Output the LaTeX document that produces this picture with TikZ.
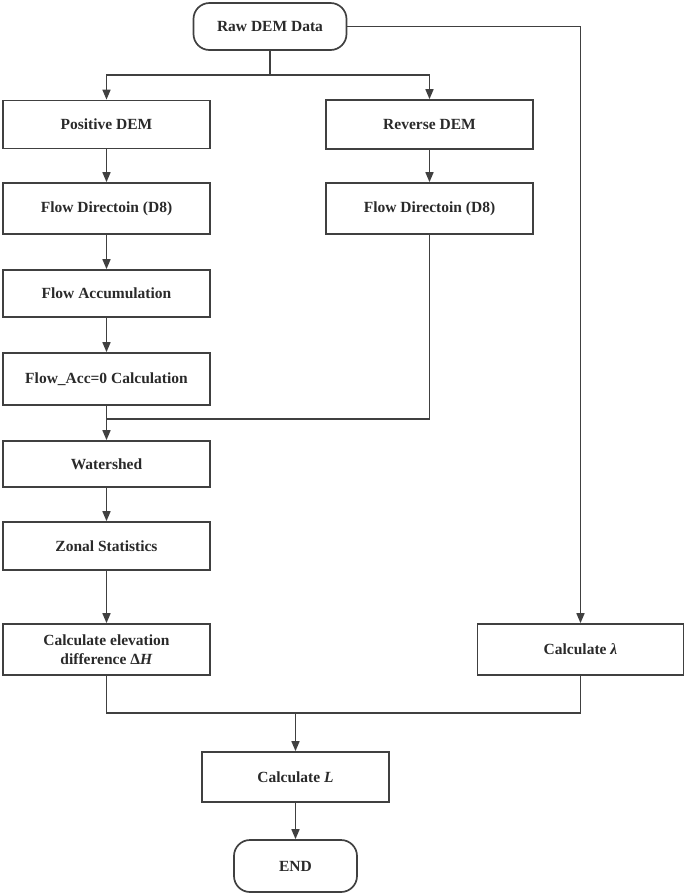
\documentclass[tikz,border=0pt]{standalone}
\usepackage{fontspec}
\setmainfont{Liberation Serif}
\usetikzlibrary{arrows.meta,positioning}
\definecolor{ln}{HTML}{404040}
\definecolor{tx}{HTML}{2A2A2A}
\begin{document}
\begin{tikzpicture}[x=1pt,y=-1pt,
  box/.style={draw=ln,line width=1.7pt,rectangle,inner sep=0pt,text=tx,font=\fontsize{15.5}{19}\selectfont\bfseries,align=center},
  term/.style={box,rounded corners=16pt},
  arr/.style={draw=ln,line width=1.6pt,-{Triangle[length=10pt,width=8pt]}},
  ln/.style={draw=ln,line width=1.6pt}]
\useasboundingbox (0,0) rectangle (685,895);
\node[term,minimum width=153pt,minimum height=47pt] (raw) at (270,26.5) {Raw DEM Data};
\node[box,minimum width=207pt,minimum height=48pt] (pos) at (106.5,124.5) {Positive DEM};
\node[box,minimum width=207pt,minimum height=49pt] (rev) at (429.5,124.5) {Reverse DEM};
\node[box,minimum width=207pt,minimum height=51pt] (fd1) at (106.5,208.5) {Flow Directoin (D8)};
\node[box,minimum width=207pt,minimum height=51pt] (fd2) at (429.5,208.5) {Flow Directoin (D8)};
\node[box,minimum width=207pt,minimum height=47pt] (facc) at (106.5,293.5) {Flow Accumulation};
\node[box,minimum width=207pt,minimum height=52pt] (f0) at (106.5,379) {Flow\_Acc=0 Calculation};
\node[box,minimum width=207pt,minimum height=46pt] (ws) at (106.5,464) {Watershed};
\node[box,minimum width=207pt,minimum height=48pt] (zs) at (106.5,546) {Zonal Statistics};
\node[box,minimum width=207pt,minimum height=51pt] (ce) at (106.5,649.5) {Calculate elevation\\difference Δ\textit{H}};
\node[box,minimum width=206pt,minimum height=51pt] (cl) at (580.5,649.5) {Calculate \textit{λ}};
\node[box,minimum width=187pt,minimum height=50pt] (cL) at (295.5,777) {Calculate \textit{L}};
\node[term,minimum width=123pt,minimum height=52pt] (end) at (295.5,866) {END};
\coordinate (b1) at (270,75);
\coordinate (m1) at (106.5,419);
\coordinate (m2) at (295.5,713);
\draw[ln] (raw.south) -- (b1);
\draw[arr] (b1) -| (pos.north);
\draw[arr] (b1) -| (rev.north);
\draw[arr] (raw.east) -| (cl.north);
\draw[arr] (pos) -- (fd1);
\draw[arr] (rev) -- (fd2);
\draw[arr] (fd1) -- (facc);
\draw[arr] (facc) -- (f0);
\draw[arr] (f0) -- (ws);
\draw[ln] (fd2.south) |- (m1);
\draw[arr] (ws) -- (zs);
\draw[arr] (zs) -- (ce);
\draw[ln] (ce.south) |- (m2);
\draw[ln] (cl.south) |- (m2);
\draw[arr] (m2) -- (cL.north);
\draw[arr] (cL) -- (end);
\end{tikzpicture}
\end{document}
